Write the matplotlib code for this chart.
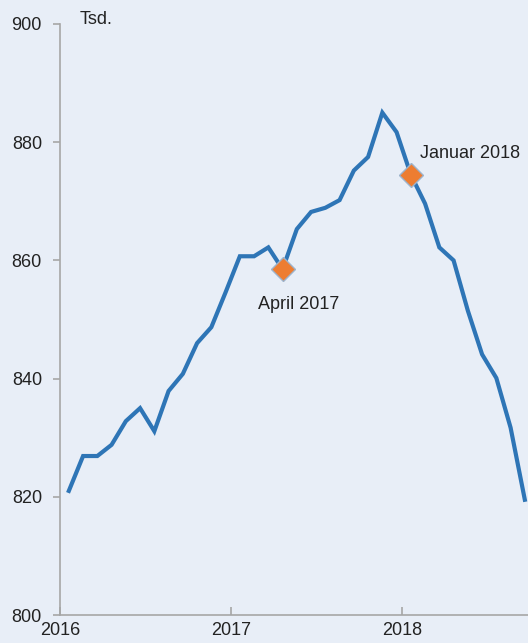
import matplotlib
matplotlib.use("Agg")
import matplotlib.pyplot as plt
import numpy as np

plt.rcParams['font.family'] = ['Liberation Sans', 'DejaVu Sans']

# Monthly values Jan 2016 .. Sep 2018 (Tsd.)
values = [821.0, 826.9, 826.9, 828.8, 832.8, 835.0, 831.1, 837.9, 840.8,
          846.0, 848.7, 854.6, 860.7, 860.7, 862.2, 858.5, 865.3, 868.2,
          868.9, 870.2, 875.2, 877.5, 885.0, 881.7, 874.5, 869.6, 862.2,
          860.0, 851.5, 844.1, 840.1, 831.7, 819.5]
start_year = 2016
marker_index = [15, 24]
marker_labels = ["April 2017", "Januar 2018"]
x_ticks = [2016, 2017, 2018]
y_ticks = [800, 820, 840, 860, 880, 900]
unit_label = "Tsd."

bg = '#E8EEF7'
line_color = '#2E75B6'
marker_color = '#ED7D31'
text_color = '#222222'
axis_color = '#A6A6A6'

x = np.array([start_year + (i + 0.62) / 12 for i in range(len(values))])
y = np.array(values)

fig = plt.figure(figsize=(5.28, 6.43), dpi=100, facecolor=bg)
ax = fig.add_axes([60/528, 28/643, 468/528, 591/643])
ax.set_facecolor(bg)

ax.plot(x, y, color=line_color, lw=3.0, solid_joinstyle='miter', zorder=2, clip_on=False)
ax.plot(x[marker_index], y[marker_index], linestyle='none', marker='D',
        markersize=12, markerfacecolor=marker_color, markeredgecolor='#9DB3CC',
        markeredgewidth=1.0, zorder=3)

offsets = [(-25, -40), (9, 17)]
for idx, lab, off in zip(marker_index, marker_labels, offsets):
    ax.annotate(lab, (x[idx], y[idx]), xytext=off, textcoords='offset pixels',
                ha='left', va='baseline', fontsize=13, color=text_color)

ax.text(20/468, 1.0, unit_label, transform=ax.transAxes, ha='left',
        va='baseline', fontsize=13, color=text_color)

ax.set_xlim(2016, 2016 + 468/171)
ax.set_ylim(800, 900)
ax.set_xticks(x_ticks)
ax.set_xticklabels([str(t) for t in x_ticks])
ax.set_yticks(y_ticks)
ax.set_yticklabels([str(t) for t in y_ticks])

for s in ['top', 'right']:
    ax.spines[s].set_visible(False)
for s in ['left', 'bottom']:
    ax.spines[s].set_color(axis_color)
    ax.spines[s].set_linewidth(1.2)

ax.tick_params(axis='y', direction='out', length=5, width=1.2, color=axis_color,
               labelsize=13, labelcolor=text_color, pad=8)
ax.tick_params(axis='x', direction='in', length=6, width=1.2, color=axis_color,
               labelsize=13, labelcolor=text_color, pad=5)

fig.savefig('out.png', dpi=100, facecolor=bg)
